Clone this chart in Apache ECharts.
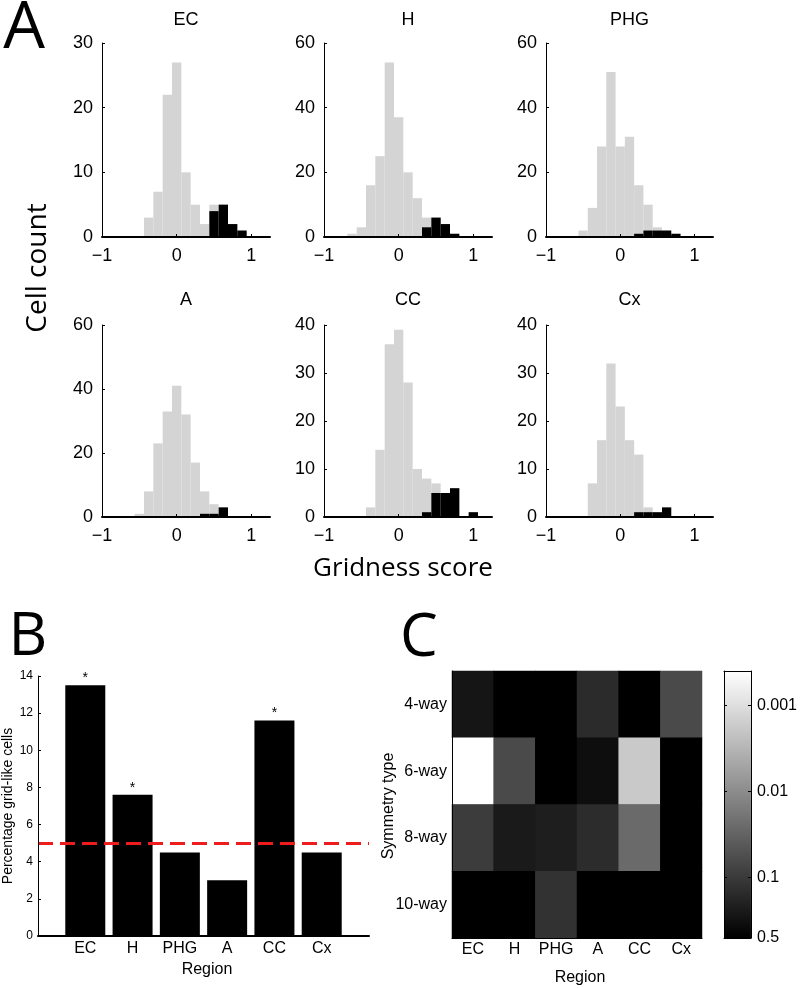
<!DOCTYPE html>
<html>
<head>
<meta charset="utf-8">
<script src="https://cdn.jsdelivr.net/npm/echarts@6/dist/echarts.min.js"></script>
<style>html,body{margin:0;padding:0;background:#fff}#c{width:800px;height:988px}</style>
</head>
<body>
<div id="c"></div>
<script>
// ---------- data ----------
const regions = ['EC', 'H', 'PHG', 'A', 'CC', 'Cx'];
const binCenters = [-0.625, -0.5, -0.375, -0.25, -0.125, 0, 0.125, 0.25, 0.375, 0.5, 0.625, 0.75, 0.875, 1.0];
const allEC   = [0, 0, 3, 7, 22, 27, 10, 5, 2, 5, 5, 2, 1, 0];
const gridEC  = [0, 0, 0, 0, 0, 0, 0, 0, 0, 4, 5, 2, 1, 0];
const allH    = [1, 3, 16, 25, 54, 37, 20, 12, 6, 6, 4, 1, 0, 0];
const gridH   = [0, 0, 0, 0, 0, 0, 0, 0, 3, 6, 4, 1, 0, 0];
const allPHG  = [0, 2, 9, 28, 51, 28, 31, 16, 10, 3, 2, 1, 0, 0];
const gridPHG = [0, 0, 0, 0, 0, 0, 0, 1, 2, 2, 2, 1, 0, 0];
const allA    = [0, 1, 8, 23, 33, 41, 32, 17, 8, 4, 3, 0, 0, 0];
const gridA   = [0, 0, 0, 0, 0, 0, 0, 0, 1, 1, 3, 0, 0, 0];
const allCC   = [0, 0, 2, 14, 36, 39, 28, 10, 8, 7, 5, 6, 0, 1];
const gridCC  = [0, 0, 0, 0, 0, 0, 0, 0, 1, 5, 5, 6, 0, 1];
const allCx   = [0, 0, 7, 16, 32, 23, 16, 13, 2, 1, 2, 0, 0, 0];
const gridCx  = [0, 0, 0, 0, 0, 0, 0, 1, 1, 1, 2, 0, 0, 0];
const histYMax  = [30, 60, 60, 60, 40, 40];
const histYStep = [10, 20, 20, 20, 10, 10];
const histXTicks = [-1, 0, 1];

const pctGridLike = [13.5, 7.6, 4.5, 3.0, 11.6, 4.5];
const significant = [true, true, false, false, true, false];
const chanceLevel = 5;

const symTypes = ['4-way', '6-way', '8-way', '10-way'];
const p4way  = [0.28, 0.6, 0.7, 0.15, 0.8, 0.063];
const p6way  = [0.0003, 0.063, 0.9, 0.34, 0.0018, 0.6];
const p8way  = [0.093, 0.24, 0.215, 0.145, 0.0255, 0.7];
const p10way = [0.6, 0.8, 0.123, 0.9, 0.7, 0.6];
const cbTicks = [0.5, 0.1, 0.01, 0.001];
const cbTopP = 0.0004;

// ---------- build ----------
const allCounts = [allEC, allH, allPHG, allA, allCC, allCx];
const gridCounts = [gridEC, gridH, gridPHG, gridA, gridCC, gridCx];
const pRows = [p4way, p6way, p8way, p10way];
const binHalf = 0.0625;
const nlog = p => -Math.log10(p);
const Lmin = nlog(0.5), Lmax = nlog(cbTopP);

const SANS = '"Liberation Sans", Arial, sans-serif';
const HUM = '"Open Sans", "Noto Sans", sans-serif';
const histPos = [[102,43,168,194],[324,43,168,194],[546,43,167,194],[102,325,168,192],[324,325,168,192],[546,325,167,192]];

const grids = [], xAxes = [], yAxes = [], series = [];
function histRender(params, api) {
  const c = api.value(0), n = api.value(1);
  if (!n) return;
  const a = api.coord([c - binHalf, n]);
  const b = api.coord([c + binHalf, 0]);
  return { type: 'rect', shape: { x: a[0], y: a[1], width: b[0] - a[0], height: b[1] - a[1] },
           style: { fill: api.visual('color') } };
}
const fmtMinus = v => (v < 0 ? '\u2212' + Math.abs(v) : String(v));
histPos.forEach((g, i) => {
  grids.push({ left: g[0], top: g[1], width: g[2], height: g[3] });
  xAxes.push({ gridIndex: i, type: 'value', min: -1, max: 1.25, z: 5,
    axisLine: { show: true, onZero: false, lineStyle: { color: '#000', width: 2 } },
    axisTick: { show: true, inside: true, length: 3, customValues: histXTicks, lineStyle: { color: '#000' } },
    axisLabel: { customValues: histXTicks, formatter: fmtMinus, fontSize: 18, fontFamily: SANS, color: '#000', margin: 10 },
    splitLine: { show: false } });
  yAxes.push({ gridIndex: i, type: 'value', min: 0, max: histYMax[i], interval: histYStep[i], z: 5,
    axisLine: { show: true, onZero: false, lineStyle: { color: '#000', width: 1 } },
    axisTick: { show: true, inside: true, length: 3, lineStyle: { color: '#000' } },
    axisLabel: { fontSize: 18, fontFamily: SANS, color: '#000', margin: 9 },
    splitLine: { show: false } });
  series.push({ type: 'custom', xAxisIndex: i, yAxisIndex: i, renderItem: histRender, silent: true,
    itemStyle: { color: '#d4d4d4' }, data: binCenters.map((c, k) => [c, allCounts[i][k]]) });
  series.push({ type: 'custom', xAxisIndex: i, yAxisIndex: i, renderItem: histRender, silent: true,
    itemStyle: { color: '#000' }, data: binCenters.map((c, k) => [c, gridCounts[i][k]]) });
});

// Panel B
grids.push({ left: 38, top: 676, width: 331, height: 260 });
xAxes.push({ gridIndex: 6, type: 'value', min: 0, max: regions.length + 1, z: 5,
  axisLine: { show: true, onZero: false, lineStyle: { color: '#000', width: 2 } },
  axisTick: { show: false },
  axisLabel: { customValues: regions.map((r, i) => i + 1), formatter: v => regions[v - 1],
    fontSize: 16, fontFamily: SANS, color: '#000', margin: 5 },
  splitLine: { show: false } });
yAxes.push({ gridIndex: 6, type: 'value', min: 0, max: 14, interval: 2, z: 5,
  axisLine: { show: true, onZero: false, lineStyle: { color: '#000', width: 1 } },
  axisTick: { show: true, inside: true, length: 3, lineStyle: { color: '#000' } },
  axisLabel: { fontSize: 12, fontFamily: SANS, color: '#000', margin: 5 },
  splitLine: { show: false } });
series.push({ type: 'bar', xAxisIndex: 6, yAxisIndex: 6, barWidth: 40, silent: true,
  itemStyle: { color: '#000' },
  label: { show: true, position: 'top', distance: 0, fontSize: 14, fontFamily: SANS, color: '#000',
    formatter: p => (significant[p.dataIndex] ? '*' : '') },
  data: regions.map((r, i) => [i + 1, pctGridLike[i]]),
  markLine: { silent: true, symbol: 'none', label: { show: false },
    lineStyle: { color: '#ee1c1c', width: 3, type: [15, 7] },
    data: [{ yAxis: chanceLevel }] } });

// Panel C heatmap
grids.push({ left: 452, top: 671, width: 250, height: 267, show: true, backgroundColor: '#000', borderWidth: 0 });
xAxes.push({ gridIndex: 7, type: 'category', data: regions, z: 5,
  axisLine: { show: true, lineStyle: { color: '#000' } }, axisTick: { show: false },
  axisLabel: { interval: 0, fontSize: 16, fontFamily: SANS, color: '#000', margin: 4 } });
yAxes.push({ gridIndex: 7, type: 'category', data: symTypes, inverse: true, z: 5,
  axisLine: { show: true, lineStyle: { color: '#000' } }, axisTick: { show: false },
  axisLabel: { interval: 0, fontSize: 16, fontFamily: SANS, color: '#000', margin: 5 } });
const heatData = [];
pRows.forEach((row, r) => row.forEach((p, c) => {
  heatData.push([c, r, Math.min(Lmax, Math.max(Lmin, nlog(p)))]);
}));
series.push({ type: 'heatmap', xAxisIndex: 7, yAxisIndex: 7, data: heatData, silent: true,
  itemStyle: { borderWidth: 0 } });
const heatSeriesIndex = series.length - 1;

// Colorbar
grids.push({ left: 724, top: 671, width: 30, height: 267 });
const cbVals = cbTicks.map(nlog);
xAxes.push({ gridIndex: 8, type: 'value', min: 0, max: 1, z: 5, position: 'bottom',
  axisLine: { show: true, onZero: false, lineStyle: { color: '#000' } }, axisTick: { show: false },
  axisLabel: { show: false }, splitLine: { show: false } });
xAxes.push({ gridIndex: 8, type: 'value', min: 0, max: 1, z: 5, position: 'top',
  axisLine: { show: true, onZero: false, lineStyle: { color: '#000' } }, axisTick: { show: false },
  axisLabel: { show: false }, splitLine: { show: false } });
yAxes.push({ gridIndex: 8, type: 'value', min: Lmin, max: Lmax, position: 'right', z: 5,
  axisLine: { show: true, onZero: false, lineStyle: { color: '#000' } },
  axisTick: { show: true, inside: true, length: 3, customValues: cbVals, lineStyle: { color: '#000' } },
  axisLabel: { customValues: cbVals, formatter: v => String(+Math.pow(10, -v).toPrecision(1)),
    fontSize: 16, fontFamily: SANS, color: '#000', margin: 6 },
  splitLine: { show: false } });
yAxes.push({ gridIndex: 8, type: 'value', min: Lmin, max: Lmax, position: 'left', z: 5,
  axisLine: { show: true, onZero: false, lineStyle: { color: '#000' } },
  axisTick: { show: true, inside: true, length: 3, customValues: cbVals, lineStyle: { color: '#000' } },
  axisLabel: { show: false }, splitLine: { show: false } });
series.push({ type: 'custom', xAxisIndex: 9, yAxisIndex: 9, silent: true, data: [[0, 1]],
  renderItem: (params, api) => {
    const a = api.coord([0, Lmax]), b = api.coord([1, Lmin]);
    return { type: 'rect', shape: { x: a[0], y: a[1], width: b[0] - a[0], height: b[1] - a[1] },
      style: { fill: { type: 'linear', x: 0, y: 0, x2: 0, y2: 1,
        colorStops: [{ offset: 0, color: '#ffffff' }, { offset: 1, color: '#000000' }] } } };
  } });

const txt = (text, x, y, font, rot) => ({ type: 'text', x, y, rotation: rot || 0,
  style: { text, font, fill: '#000', align: 'center', verticalAlign: 'middle' } });
const graphics = [
  txt('A', 24, 29, '66px ' + HUM),
  txt('B', 28, 638, '60px ' + HUM),
  txt('C', 419, 639, '60px ' + HUM),
  txt('Cell count', 38, 268, '28px ' + HUM, Math.PI / 2),
  txt('Gridness score', 403, 569, '26px ' + HUM),
  txt('Percentage grid-like cells', 8, 806, '14px ' + SANS, Math.PI / 2),
  txt('Region', 207, 970, '16px ' + SANS),
  txt('Region', 580, 978, '16px ' + SANS),
  txt('Symmetry type', 389, 806, '16px ' + SANS, Math.PI / 2)
];
const titleY = [20, 20, 20, 300, 300, 300];
histPos.forEach((g, i) => graphics.push(txt(regions[i], g[0] + g[2] / 2, titleY[i], '18px ' + SANS)));

const chart = echarts.init(document.getElementById('c'), null, { renderer: 'canvas' });
chart.setOption({
  animation: false,
  backgroundColor: '#fff',
  grid: grids, xAxis: xAxes, yAxis: yAxes, series: series,
  visualMap: { type: 'continuous', show: false, seriesIndex: heatSeriesIndex, dimension: 2,
    min: Lmin, max: Lmax, inRange: { color: ['#000000', '#ffffff'] } },
  graphic: graphics
});
</script>
</body>
</html>
